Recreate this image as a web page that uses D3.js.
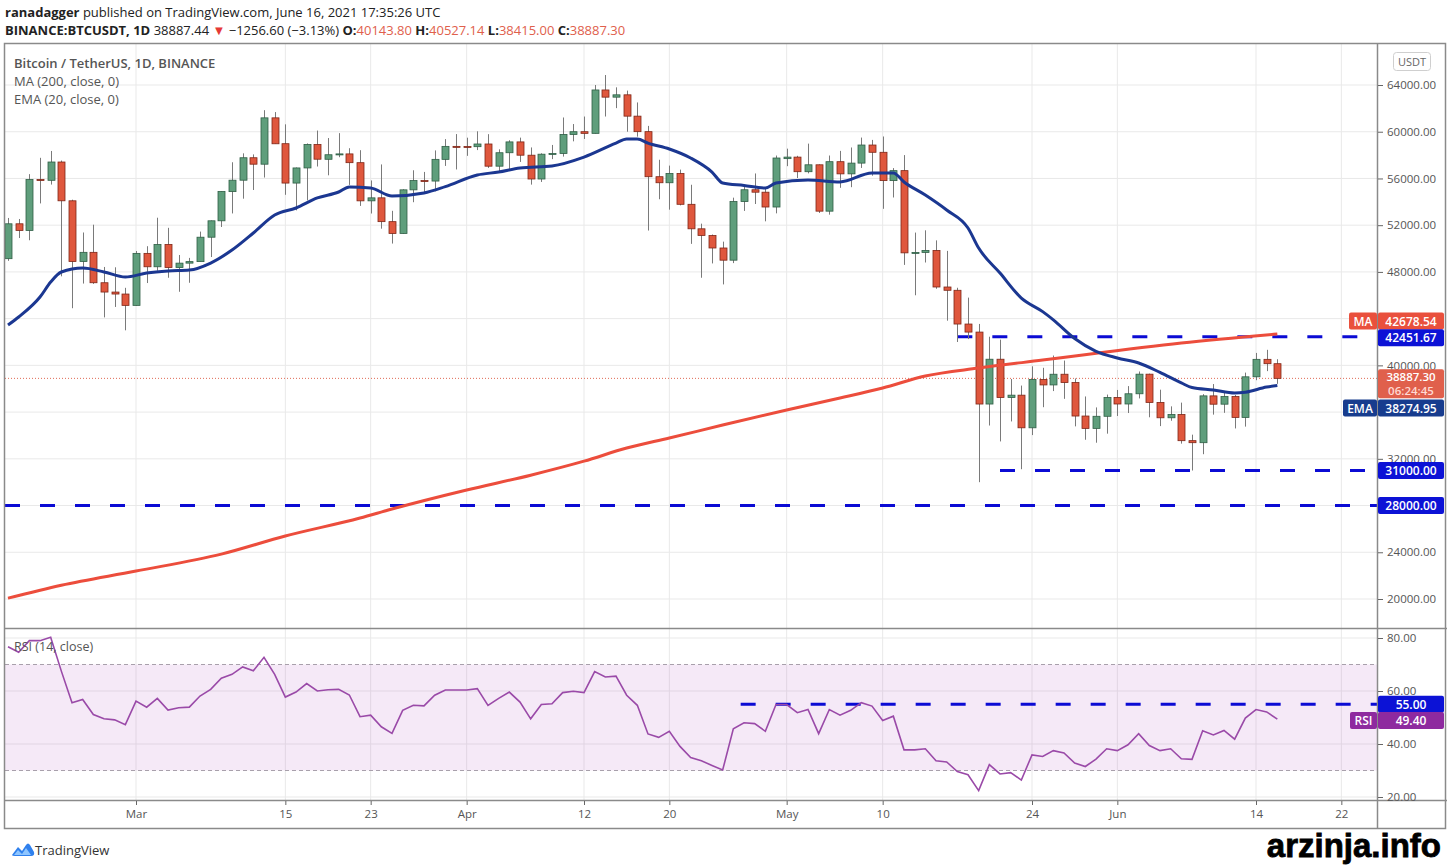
<!DOCTYPE html>
<html>
<head>
<meta charset="utf-8">
<script src="https://cdn.jsdelivr.net/npm/d3@7"></script>
<style>
  body { margin: 0; background: #fff; }
  svg { display: block; font-family: "Open Sans", "Noto Sans", sans-serif; }
</style>
</head>
<body>
<svg id="chart" width="1447" height="867"></svg>
<script>
// daily candles, Feb 17 2021 .. Jun 16 2021 (one value per day)
var firstDay = '2021-02-17';

var opens = [
  49133, 52119, 51552, 55906, 55841, 57408, 54087, 48891, 49676, 47073, 46276, 46106,
  45135, 49587, 48440, 50349, 48374, 48751, 48882, 50971, 52375, 54874, 55851, 57773, 57221, 61188, 58976, 55605,
  56900, 58912, 57641, 58030, 58101, 57351, 54083, 54342, 52303, 51293, 55025, 55817, 55777, 57635, 58746,
  58740, 58720, 58950, 57051, 58202, 59129, 57991, 55953, 58077, 58142, 59769, 60002, 59860, 63575, 62959,
  63159, 61334, 60006, 56150, 55633, 56425, 53787, 51690, 51110, 50047, 49004, 54021, 55033, 54824, 53555,
  57697, 57828, 56578, 57169, 53200, 57436, 56393, 57314, 58862, 58240, 55816, 56670, 49631, 49670, 49841,
  46708, 46427, 43538, 42849, 36690, 40526, 37252, 37449, 34655, 38796, 38324, 39241, 38529, 35663, 34605, 35641,
  37253, 36694, 37568, 39246, 36829, 35513, 35796, 33556, 33380, 37388, 36677, 37331, 35546, 39020, 40516, 40143
];
var highs = [
  52618, 52530, 56368, 57767, 58352, 57533, 54183, 51374, 52041, 48424, 48394, 46638,
  49790, 50200, 52640, 51773, 49448, 49200, 51450, 52402, 54895, 57387, 58150, 58058, 61844, 61683, 60633, 56938,
  58999, 60100, 59460, 59880, 58589, 58421, 55830, 57200, 53230, 55073, 56700, 56559, 58400, 59368, 59800,
  59490, 60036, 59791, 58492, 59272, 59495, 58655, 58153, 58869, 61219, 60658, 61300, 64000, 64854, 63800,
  63520, 62506, 60499, 57600, 57100, 56757, 55460, 52130, 51200, 50591, 54356, 55460, 56428, 55196, 57963,
  58550, 57937, 58981, 57200, 57963, 58360, 58650, 59500, 59300, 59592, 56888, 58000, 51367, 51560, 50700,
  49800, 46643, 45799, 43546, 42451, 42200, 38831, 38270, 39920, 39791, 40841, 40411, 38877, 37338, 36400, 37499,
  37894, 38225, 39476, 39289, 37917, 36491, 36810, 34068, 37534, 38400, 37680, 37463, 39380, 41064, 41330, 40527
];
var lows = [
  48947, 50901, 50710, 53863, 55477, 47622, 44892, 47003, 46975, 44106, 45000, 43000,
  45115, 47047, 48100, 47500, 46300, 47070, 48882, 49274, 51845, 53005, 54269, 55012, 56078, 58966, 54600, 53271,
  54123, 57023, 56270, 57820, 55450, 53650, 53000, 51700, 50427, 51270, 53966, 54691, 54900, 57072, 56769,
  57935, 58428, 56900, 56478, 56801, 57413, 55473, 55700, 57654, 57871, 59177, 59379, 59849, 61301, 62020,
  60000, 59580, 51541, 54221, 53329, 53695, 50400, 47500, 48726, 46930, 48753, 53222, 53813, 52330, 53013,
  57052, 56035, 56435, 53046, 52900, 55200, 55253, 56900, 56235, 53400, 54370, 48600, 46000, 48805, 46555,
  43825, 42001, 42250, 30000, 34850, 33488, 35200, 31111, 34031, 36419, 37800, 37134, 34778, 33632, 33379, 34153,
  35666, 35920, 37170, 35555, 34800, 35258, 33300, 31000, 32396, 35782, 35936, 34600, 34757, 38730, 39506, 38415
];
var closes = [
  52119, 51552, 55906, 55841, 57408, 54087, 48891, 49676, 47073, 46276, 46106, 45135,
  49587, 48440, 50349, 48374, 48751, 48882, 50971, 52375, 54884, 55851, 57773, 57221, 61188, 58968, 55605, 56900,
  58912, 57648, 58030, 58102, 57351, 54083, 54340, 52303, 51293, 55025, 55817, 55777, 57635, 58746, 58740,
  58720, 58950, 57051, 58202, 59129, 57991, 55953, 58077, 58142, 59769, 60002, 59860, 63575, 62959, 63159,
  61334, 60006, 56150, 55633, 56425, 53787, 51690, 51125, 50047, 49004, 54021, 55033, 54824, 53555, 57750,
  57828, 56578, 57169, 53200, 57436, 56393, 57314, 58862, 58240, 55816, 56670, 49631, 49670, 49841, 46708,
  46427, 43538, 42849, 36690, 40526, 37252, 37449, 34655, 38796, 38324, 39241, 38529, 35663, 34605, 35641, 37253,
  36693, 37568, 39246, 36829, 35513, 35796, 33552, 33380, 37388, 36675, 37331, 35546, 39020, 40516, 40143, 38887
];

var rsiValues = [
  76.7, 74.6, 79, 79, 80.3, 67.5, 55.6, 56.8, 51.1, 49.5, 49.1, 47.3,
  56.2, 53.9, 57.2, 52.8, 53.7, 53.9, 58.1, 60.6, 64.8, 66.3, 69.1, 67.6, 72.7, 66.3, 57.7, 59.6,
  62.8, 60, 60.5, 60.6, 58.5, 50.3, 50.9, 46.5, 44.0, 52.7, 54.6, 54.4, 58.4, 60.4, 60.4,
  60.4, 60.9, 54.6, 57.2, 59.6, 55.8, 49.5, 54.9, 55.2, 59.4, 59.9, 59.4, 67.3, 65.3, 65.6,
  58.4, 54.6, 43.8, 42.5, 44.8, 39.1, 34.9, 33.7, 31.9, 30.2, 45.7, 48, 47.7, 44.8, 54.9,
  54.9, 51.8, 53, 43.9, 53, 50.9, 52.7, 55.6, 54.3, 48.9, 50.5, 37.8, 37.8, 38.2, 33.7,
  33.2, 29.6, 28.4, 22.4, 32.2, 28.7, 29.2, 26.4, 35.9, 35.3, 37.5, 36.6, 32.8, 31.5, 34.3, 38.2,
  37.5, 39.7, 43.9, 39.4, 37.5, 38.2, 34.4, 34.2, 45, 43.4, 45.1, 41.8, 49.8, 53, 52.1, 49.4
];

// EMA (20)
var emaDates = ['2021-02-17','2021-02-18','2021-02-20','2021-02-21','2021-02-22','2021-02-24','2021-02-26','2021-02-28',
  '2021-03-02','2021-03-04','2021-03-06','2021-03-08','2021-03-10','2021-03-12','2021-03-14','2021-03-16','2021-03-18',
  '2021-03-20','2021-03-21','2021-03-23','2021-03-25','2021-03-28','2021-03-30','2021-04-02','2021-04-04','2021-04-06',
  '2021-04-09','2021-04-12','2021-04-15','2021-04-16','2021-04-17','2021-04-18','2021-04-20','2021-04-22','2021-04-24',
  '2021-04-25','2021-04-27','2021-04-29','2021-04-30','2021-05-03','2021-05-06','2021-05-09','2021-05-11','2021-05-12',
  '2021-05-14','2021-05-16','2021-05-18','2021-05-19','2021-05-21','2021-05-23','2021-05-25','2021-05-26','2021-05-28',
  '2021-05-30','2021-06-01','2021-06-03','2021-06-05','2021-06-07','2021-06-08','2021-06-10','2021-06-12','2021-06-13',
  '2021-06-15','2021-06-16'];
var emaValues = [43450, 44140, 45850, 47130, 47990, 48330, 48000, 47560,
  47900, 48080, 48160, 48760, 49870, 51330, 52870, 53470, 54330,
  54840, 55270, 55180, 54500, 54760, 55300, 56300, 56550, 56900,
  57070, 57830, 59030, 59380, 59380, 59030, 58520, 57750, 56550,
  55610, 55400, 55180, 55610, 55870, 55700, 56470, 56470, 55700,
  54580, 53300, 51760, 50040, 47900, 45760, 44600, 43900, 42300,
  41200, 40630, 40200, 39400, 38500, 38100, 37890, 37630, 37700,
  38140, 38275];

// MA (200)
var maDates = ['2021-02-17','2021-02-22','2021-03-01','2021-03-09','2021-03-15','2021-03-22','2021-03-25','2021-04-01',
  '2021-04-07','2021-04-12','2021-04-16','2021-04-20','2021-04-25','2021-05-01','2021-05-06','2021-05-10','2021-05-14',
  '2021-05-19','2021-05-25','2021-06-07','2021-06-16'];
var maValues = [20070, 21180, 22390, 23840, 25390, 26930, 27700, 29330,
  30600, 31800, 32920, 33780, 34890, 36180, 37200, 38060, 39090,
  39770, 40450, 41910, 42678];

var priceTicks = [20000, 24000, 28000, 32000, 36000, 40000, 44000, 48000, 52000, 56000, 60000, 64000];
var priceTicksHidden = [36000, 44000];   // covered by the value tags in the picture
var rsiTicks = [20, 40, 60, 80];
var timeTicks = ['2021-03-01','2021-03-15','2021-03-23','2021-04-01','2021-04-12','2021-04-20','2021-05-01',
  '2021-05-10','2021-05-24','2021-06-01','2021-06-14','2021-06-22'];
var timeTickLabels = ['Mar', '15', '23', 'Apr', '12', '20', 'May', '10', '24', 'Jun', '14', '22'];

// drawn levels
var resistance = 42451.67, support = 31000, support2 = 28000, rsiLevel = 55;
var lastClose = 38887.30, lastMa = 42678.54, lastEma = 38274.95, lastRsi = 49.40;

// layout
var W = 1447, H = 867,
    left = 5, right = 1377,
    mainTop = 44, mainBottom = 628,
    rsiBottom = 800, axisBottom = 829;

var parse = d3.utcParse('%Y-%m-%d');
var start = parse(firstDay);
var candles = closes.map(function(c, i) {
  return {date: d3.utcDay.offset(start, i), o: opens[i], h: highs[i], l: lows[i], c: c, rsi: rsiValues[i]};
});

var x = d3.scaleUtc().domain([parse('2021-03-01'), parse('2021-06-14')]).range([136, 1256]);
var y = d3.scaleLinear().domain([20000, 64000]).range([599, 85]);
var yR = d3.scaleLinear().domain([20, 80]).range([797, 638]);

var svg = d3.select('#chart');

svg.append('rect').attr('width', W).attr('height', H).attr('fill', '#fff');

var defs = svg.append('defs');
defs.append('clipPath').attr('id', 'clipMain').append('rect')
    .attr('x', left).attr('y', mainTop).attr('width', right - left).attr('height', mainBottom - mainTop);
defs.append('clipPath').attr('id', 'clipRsi').append('rect')
    .attr('x', left).attr('y', mainBottom).attr('width', right - left).attr('height', rsiBottom - mainBottom);

// grid
var grid = svg.append('g').attr('class', 'grid');
grid.selectAll('.vg').data(timeTicks).enter().append('line')
    .attr('x1', function(d) { return x(parse(d)); }).attr('x2', function(d) { return x(parse(d)); })
    .attr('y1', mainTop).attr('y2', rsiBottom)
    .attr('stroke', '#e9e9e9').attr('stroke-width', 1);
grid.selectAll('.hg').data(priceTicks).enter().append('line')
    .attr('x1', left).attr('x2', right)
    .attr('y1', function(d) { return y(d); }).attr('y2', function(d) { return y(d); })
    .attr('stroke', '#e9e9e9').attr('stroke-width', 1);
grid.selectAll('.rg').data(rsiTicks).enter().append('line')
    .attr('x1', left).attr('x2', right)
    .attr('y1', function(d) { return yR(d); }).attr('y2', function(d) { return yR(d); })
    .attr('stroke', '#e9e9e9').attr('stroke-width', 1);

// ---- main pane
var main = svg.append('g').attr('clip-path', 'url(#clipMain)');

// last price dotted line
main.append('line')
    .attr('x1', left).attr('x2', right)
    .attr('y1', y(lastClose)).attr('y2', y(lastClose))
    .attr('stroke', '#e06a55').attr('stroke-width', 1).attr('stroke-dasharray', '1,2');

var dashBlue = '#0b0bd4';
function level(value, fromDate) {
  var x0 = fromDate ? x(parse(fromDate)) : left;
  main.append('line')
      .attr('x1', x0).attr('x2', right)
      .attr('y1', y(value)).attr('y2', y(value))
      .attr('stroke', dashBlue).attr('stroke-width', 3).attr('stroke-dasharray', '15,20');
}
level(resistance, '2021-05-17');
level(support, '2021-05-21');
level(support2, null);

var bw = 7;
main.append('g').selectAll('line').data(candles).enter().append('line')
    .attr('x1', function(d) { return Math.round(x(d.date)) + 0.5; })
    .attr('x2', function(d) { return Math.round(x(d.date)) + 0.5; })
    .attr('y1', function(d) { return y(d.h); })
    .attr('y2', function(d) { return y(d.l); })
    .attr('stroke', '#7a7a7a').attr('stroke-width', 1);

main.append('g').selectAll('rect').data(candles).enter().append('rect')
    .attr('x', function(d) { return Math.round(x(d.date)) - 3; })
    .attr('y', function(d) { return y(Math.max(d.o, d.c)); })
    .attr('width', bw)
    .attr('height', function(d) { return Math.max(1, Math.abs(y(d.o) - y(d.c))); })
    .attr('fill', function(d) { return d.c >= d.o ? '#5f9e7c' : '#df573d'; })
    .attr('stroke', function(d) { return d.c >= d.o ? '#2f5e45' : '#7e2617'; })
    .attr('stroke-width', 0.8);

var lineGen = d3.line().curve(d3.curveMonotoneX)
    .x(function(d) { return x(d[0]); })
    .y(function(d) { return y(d[1]); });

var maPts = maDates.map(function(d, i) { return [parse(d), maValues[i]]; });
var emaPts = emaDates.map(function(d, i) { return [parse(d), emaValues[i]]; });

main.append('path').datum(maPts).attr('d', lineGen)
    .attr('fill', 'none').attr('stroke', '#ec4d3c').attr('stroke-width', 3).attr('stroke-linejoin', 'round');
main.append('path').datum(emaPts).attr('d', lineGen)
    .attr('fill', 'none').attr('stroke', '#1b3791').attr('stroke-width', 3).attr('stroke-linejoin', 'round');

// ---- RSI pane
var rsiG = svg.append('g').attr('clip-path', 'url(#clipRsi)');
rsiG.append('rect')
    .attr('x', left).attr('width', right - left)
    .attr('y', yR(70)).attr('height', yR(30) - yR(70))
    .attr('fill', '#9c27b0').attr('fill-opacity', 0.1);
[70, 30].forEach(function(v) {
  rsiG.append('line').attr('x1', left).attr('x2', right)
      .attr('y1', yR(v)).attr('y2', yR(v))
      .attr('stroke', '#a8a0ab').attr('stroke-width', 1).attr('stroke-dasharray', '4,3');
});
rsiG.append('line')
    .attr('x1', x(parse('2021-04-28')) - 14).attr('x2', right)
    .attr('y1', yR(rsiLevel)).attr('y2', yR(rsiLevel))
    .attr('stroke', dashBlue).attr('stroke-width', 3).attr('stroke-dasharray', '15,20');
rsiG.append('path').datum(candles)
    .attr('d', d3.line().x(function(d) { return x(d.date); }).y(function(d) { return yR(d.rsi); }))
    .attr('fill', 'none').attr('stroke', '#9a4aa8').attr('stroke-width', 1.6);

// ---- frame
var frame = svg.append('g').attr('stroke', '#8a8a8a').attr('fill', 'none');
frame.append('rect').attr('x', left - 0.5).attr('y', mainTop - 0.5)
    .attr('width', W - left - 1).attr('height', axisBottom - mainTop).attr('stroke-width', 1.5);
frame.append('line').attr('x1', right + 0.5).attr('x2', right + 0.5).attr('y1', mainTop).attr('y2', axisBottom).attr('stroke-width', 1.5);
frame.append('line').attr('x1', left).attr('x2', W).attr('y1', mainBottom + 0.5).attr('y2', mainBottom + 0.5).attr('stroke-width', 1.5);
frame.append('line').attr('x1', left).attr('x2', W).attr('y1', rsiBottom + 0.5).attr('y2', rsiBottom + 0.5).attr('stroke-width', 1.5);

// ---- axes
var fmt2 = d3.format('.2f');
var priceAxis = svg.append('g').attr('transform', 'translate(' + (right + 1) + ',0)')
    .call(d3.axisRight(y).tickValues(priceTicks)
      .tickFormat(function(d) { return priceTicksHidden.indexOf(d) >= 0 ? '' : fmt2(d); })
      .tickSize(5).tickPadding(4));
var rsiAxis = svg.append('g').attr('transform', 'translate(' + (right + 1) + ',0)')
    .call(d3.axisRight(yR).tickValues(rsiTicks).tickFormat(fmt2).tickSize(5).tickPadding(4));
var timeAxis = svg.append('g').attr('transform', 'translate(0,' + (rsiBottom + 1) + ')')
    .call(d3.axisBottom(x).tickValues(timeTicks.map(parse))
      .tickFormat(function(d, i) { return timeTickLabels[i]; }).tickSize(4).tickPadding(5));
[priceAxis, rsiAxis, timeAxis].forEach(function(a) {
  a.select('.domain').remove();
  a.selectAll('.tick line').attr('stroke', '#666');
  a.selectAll('.tick text').attr('fill', '#555').style('font-size', '11.5px')
      .style('font-family', '"Open Sans", sans-serif');
});

// USDT box
svg.append('rect').attr('x', 1393.5).attr('y', 52.5).attr('width', 37).attr('height', 18).attr('rx', 3)
    .attr('fill', '#fff').attr('stroke', '#cfcfcf');
svg.append('text').attr('x', 1412).attr('y', 65.5).attr('text-anchor', 'middle')
    .attr('fill', '#666').style('font-size', '11px').text('USDT');

// axis value tags
function tag(yc, text, color, h, extra) {
  var g = svg.append('g');
  g.append('rect').attr('x', right + 1).attr('y', yc - h / 2).attr('width', 66).attr('height', h)
      .attr('rx', 2).attr('fill', color);
  g.append('text').attr('x', right + 34).attr('y', extra ? yc - 3 : yc + 4.5).attr('text-anchor', 'middle')
      .attr('fill', '#fff').style('font-size', extra ? '11.5px' : '12px').style('font-weight', 600).text(text);
  if (extra) {
    g.append('text').attr('x', right + 34).attr('y', yc + 11.5).attr('text-anchor', 'middle')
        .attr('fill', '#ffd9d2').style('font-size', '11.5px').style('font-weight', 600).text(extra);
  }
}
function sideTag(yc, text, color, w) {
  svg.append('rect').attr('x', right - w).attr('y', yc - 8.5).attr('width', w).attr('height', 17)
      .attr('rx', 2).attr('fill', color);
  svg.append('text').attr('x', right - w / 2).attr('y', yc + 4.5).attr('text-anchor', 'middle')
      .attr('fill', '#fff').style('font-size', '12px').style('font-weight', 600).text(text);
}

tag(321, fmt2(lastMa), '#e9503d', 17);
sideTag(321, 'MA', '#e9503d', 28);
tag(y(resistance) + 1, fmt2(resistance), '#0c12d6', 17);
tag(y(lastClose) + 5.5, fmt2(lastClose), '#e0604c', 29, '06:24:45');
tag(408, fmt2(lastEma), '#173c8e', 17);
sideTag(408, 'EMA', '#173c8e', 34);
tag(y(support), fmt2(support), '#0c12d6', 17);
tag(y(support2), fmt2(support2), '#0c12d6', 17);
tag(yR(rsiLevel), fmt2(rsiLevel), '#0c12d6', 17);
tag(yR(lastRsi) + 1.5, fmt2(lastRsi), '#8e2a9f', 17);
sideTag(yR(lastRsi) + 1.5, 'RSI', '#8e2a9f', 27);

// pane legends
var legend = svg.append('g').attr('fill', '#555').style('font-size', '13px');
legend.append('text').attr('x', 14).attr('y', 68).style('font-weight', 600).text('Bitcoin / TetherUS, 1D, BINANCE');
legend.append('text').attr('x', 14).attr('y', 86).text('MA (200, close, 0)');
legend.append('text').attr('x', 14).attr('y', 104).text('EMA (20, close, 0)');
legend.append('text').attr('x', 14).attr('y', 651).style('font-size', '12.5px').text('RSI (14, close)');

// header
var h1 = svg.append('text').attr('x', 5).attr('y', 17).attr('fill', '#222').style('font-size', '13px');
h1.append('tspan').style('font-weight', 700).text('ranadagger');
h1.append('tspan').text(' published on TradingView.com, June 16, 2021 17:35:26 UTC');

var h2 = svg.append('text').attr('x', 5).attr('y', 35).attr('fill', '#222').style('font-size', '13px');
h2.append('tspan').style('font-weight', 700).text('BINANCE:BTCUSDT, 1D');
h2.append('tspan').text('  38887.44 ');
h2.append('tspan').attr('fill', '#e53935').text('\u25BC');
h2.append('tspan').text(' \u22121256.60 (\u22123.13%) ');
[['O:', '40143.80'], ['H:', '40527.14'], ['L:', '38415.00'], ['C:', '38887.30']].forEach(function(p) {
  h2.append('tspan').style('font-weight', 700).text(p[0]);
  h2.append('tspan').attr('fill', '#e0604c').text(p[1] + ' ');
});

// footer: logo + watermark
var logo = svg.append('g').attr('transform', 'translate(12,842)');
logo.append('path')
    .attr('d', 'M0,13 L6,5 L10,9 L14,3 Q16,0 18,3 L22,10 Q23,14 19,14 L3,14 Q0,14 0,13 Z')
    .attr('fill', '#2f80ed');
logo.append('path').attr('d', 'M2,13 L6,8 L10,12 L14,6 L19,13 Z').attr('fill', '#8ec5ff');
svg.append('text').attr('x', 35).attr('y', 855).attr('fill', '#333').style('font-size', '13px').text('TradingView');

svg.append('text').attr('x', 1441).attr('y', 857).attr('text-anchor', 'end')
    .attr('fill', '#000').attr('stroke', '#000').attr('stroke-width', 0.8)
    .style('font-family', '"Liberation Sans", Arial, sans-serif')
    .style('font-size', '33px').style('font-weight', 700).text('arzinja.info');
</script>
</body>
</html>
